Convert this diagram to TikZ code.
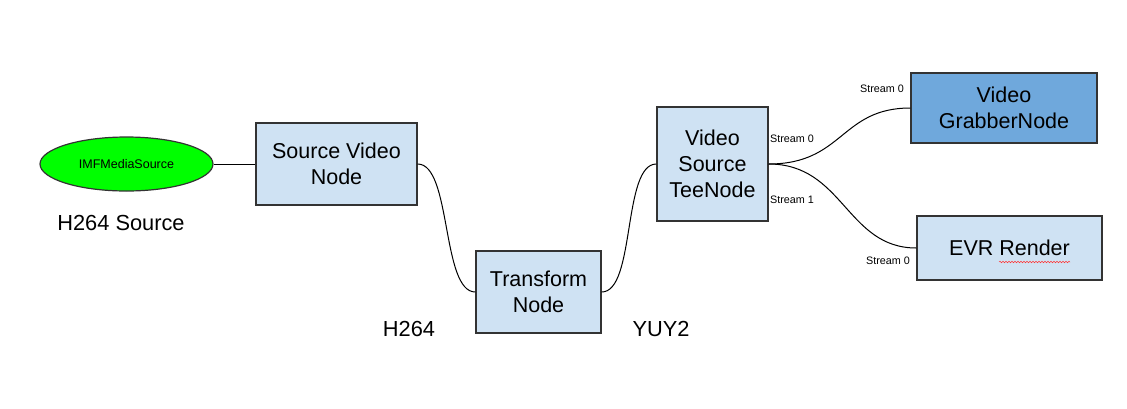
\documentclass[tikz,border=0pt]{standalone}
\usepackage{fontspec}
\setmainfont{Liberation Sans}
\usetikzlibrary{decorations.pathmorphing,shapes.geometric}
\definecolor{lightbox}{HTML}{CFE2F3}
\definecolor{darkbox}{HTML}{6FA8DC}
\definecolor{edgegray}{HTML}{333333}
\definecolor{brightgreen}{HTML}{00FF00}
\tikzset{
  blockbox/.style={draw=edgegray, line width=1.3pt, fill=lightbox, inner sep=0pt, align=center,
    font=\fontsize{21.5}{26}\selectfont},
  conn/.style={black, line width=1pt},
  streamlbl/.style={font=\fontsize{10.8}{12}\selectfont, inner sep=0pt},
  biglbl/.style={font=\fontsize{21.8}{24}\selectfont, inner sep=0pt},
}
\begin{document}
\begin{tikzpicture}[x=1pt,y=-1pt]
\useasboundingbox (0,0) rectangle (1127,408);
\fill[white] (0,0) rectangle (1127,408);

\node[ellipse, draw=edgegray, line width=1.2pt, fill=brightgreen, minimum width=173pt, minimum height=54pt, inner sep=0pt,
  font=\fontsize{12.5}{14}\selectfont] (imf) at (126.5,164) {IMFMediaSource};

\node[blockbox, minimum width=161pt, minimum height=82pt] (src) at (336.5,164) {Source Video\\Node};
\node[blockbox, minimum width=125pt, minimum height=82pt] (tr) at (538.5,292) {Transform\\Node};
\node[blockbox, minimum width=111pt, minimum height=114pt] (tee) at (712.5,164) {Video\\Source\\TeeNode};
\node[blockbox, fill=darkbox, minimum width=186pt, minimum height=70pt] (grab) at (1004,108) {Video\\GrabberNode};
\node[blockbox, minimum width=185pt, minimum height=64pt] (evr) at (1009.5,248) {EVR Render};

\node[biglbl] (h264src) at (121,223) {H264 Source};
\node[biglbl] (h264) at (409,329) {H264};
\node[biglbl] (yuy2) at (661,329) {YUY2};

\node[streamlbl] (s0g) at (882,89) {Stream 0};
\node[streamlbl] (s0t) at (792,139) {Stream 0};
\node[streamlbl] (s1t) at (792,200) {Stream 1};
\node[streamlbl] (s0e) at (888,261) {Stream 0};

\draw[conn] (imf.east) -- (src.west);
\draw[conn] (src.east) .. controls +(34,0) and +(-34,0) .. (tr.west);
\draw[conn] (tr.east) .. controls +(34,0) and +(-34,0) .. (tee.west);
\draw[conn] (tee.east) .. controls +(75,0) and +(-70,0) .. (grab.west);
\draw[conn] (tee.east) .. controls +(75,0) and +(-70,0) .. (evr.west);

\coordinate (sqa) at (999,262);
\coordinate (sqb) at (1070,262);
\draw[red!80!white, line width=0.5pt, decorate, decoration={snake, amplitude=0.8pt, segment length=3pt}] (sqa) -- (sqb);
\end{tikzpicture}
\end{document}
